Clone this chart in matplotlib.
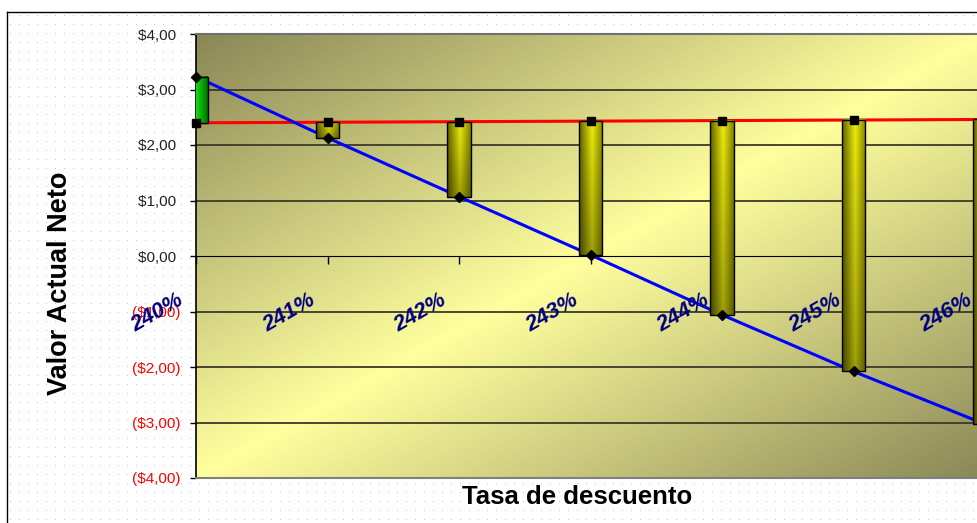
"""Valor actual neto vs tasa de descuento, Excel-style up/down bar chart."""

import matplotlib
import matplotlib.pyplot as plt
import matplotlib.transforms as mtransforms
import numpy as np
from matplotlib.lines import Line2D

matplotlib.use("Agg")

plt.rcParams["font.family"] = ["Liberation Sans", "DejaVu Sans"]

# ── Data ──────────────────────────────────────────────────────────────────────

rates = ["240%", "241%", "242%", "243%", "244%", "245%", "246%"]
van_ref = [2.40, 2.41, 2.42, 2.43, 2.44, 2.45, 2.46]       # red series
van_tasa = [3.23, 2.13, 1.07, 0.02, -1.06, -2.08, -3.03]   # blue series
y_ticks = [-4, -3, -2, -1, 0, 1, 2, 3, 4]

W, H = 977, 523


def money(v):
    s = f"${abs(v):.2f}".replace(".", ",")
    return f"({s})" if v < 0 else s + " "


def hgrad(stops, n=64, m=2):
    """Horizontal colour ramp through (pos, rgb) stops."""
    t = np.linspace(0, 1, n)
    pos = [p for p, _ in stops]
    cols = np.array([c for _, c in stops])
    row = np.stack([np.interp(t, pos, cols[:, k]) for k in range(3)], axis=-1)
    return np.repeat(row[None, :, :], m, axis=0)


fig = plt.figure(figsize=(W / 100, H / 100), dpi=100, facecolor="white")

# dotted chart-area background
dots = np.zeros((H, W, 4))
dots[15::9, 10::9] = [0.78, 0.78, 0.78, 1.0]
dots[:12, :] = 0
fig.figimage(dots, zorder=-1, origin="upper")

# chart border (top and left visible)
fig.add_artist(Line2D([7 / W, 1], [1 - 11.5 / H] * 2, transform=fig.transFigure, color="black", lw=1))
fig.add_artist(Line2D([7 / W] * 2, [0, 1 - 11.5 / H], transform=fig.transFigure, color="black", lw=1))

ax = fig.add_axes([196 / W, 45 / H, 789 / W, 444 / H])
x = np.arange(len(rates))

# plot-area diagonal gradient: dark corners, light band through the middle
u = np.linspace(0, 1, 400)
v = np.linspace(0, 1, 300)
U, V = np.meshgrid(u, v)
d = np.abs(U + V - 1)
light = np.array([1.0, 1.0, 0.62])
dark = np.array([0.54, 0.53, 0.34])
bg = light + (dark - light) * d[..., None]
ax.imshow(bg, extent=[0, 6, -4, 4], aspect="auto", origin="upper", zorder=0,
          interpolation="bilinear")

for y in [-3, -2, -1, 1, 2, 3]:
    ax.axhline(y, color="#3a3a2a", lw=1.3, zorder=1)

ax.plot(x, van_ref, color="#ff0000", lw=2.2, zorder=2)
ax.plot(x, van_tasa, color="#0000ff", lw=2.2, zorder=2)

# up/down bars
width = 0.18
olive = hgrad([(0, (0.38, 0.38, 0.0)), (0.55, (0.93, 0.93, 0.05)), (1, (0.52, 0.52, 0.0))])
green = hgrad([(0, (0.0, 0.6, 0.0)), (0.4, (0.1, 0.95, 0.1)), (1, (0.0, 0.45, 0.0))])
for xi, a, b in zip(x, van_ref, van_tasa, strict=True):
    lo, hi = min(a, b), max(a, b)
    ax.bar(xi, hi - lo, width, bottom=lo, facecolor="none", edgecolor="black", lw=1, zorder=3.5)
    img = green if b > a else olive
    shade = np.linspace(1.0, 0.68, 40)[:, None, None]
    img = np.repeat(img[:1], 40, axis=0) * (shade if b <= a else 1.0)
    ax.imshow(img, extent=[xi - width / 2, xi + width / 2, lo, hi], aspect="auto",
              origin="upper", zorder=3, interpolation="bilinear")

ax.plot(x, van_ref, ls="none", marker="s", ms=6, color="black", zorder=5, clip_on=False)
ax.plot(x, van_tasa, ls="none", marker="D", ms=5.5, color="black", zorder=5, clip_on=False)

# category labels sit below the zero axis, rotated
off = mtransforms.offset_copy(ax.transData, fig=fig, x=-14, y=-43, units="dots")
for xi, lab in zip(x, rates, strict=True):
    ax.text(xi, 0, lab, transform=off, rotation=30, rotation_mode="anchor", ha="right",
            va="center", color="#000080", fontsize=16, fontweight="bold", fontstyle="italic",
            zorder=6)

ax.set_xlim(0, 6)
ax.set_ylim(-4, 4)
ax.set_xticks(x)
ax.tick_params(axis="x", direction="out", length=6, width=1, color="black", labelbottom=False)
ax.set_yticks(y_ticks)
ax.set_yticklabels([money(t) for t in y_ticks])
ax.tick_params(axis="y", direction="out", length=4.5, width=1, pad=7, labelsize=11)
for lab, t in zip(ax.get_yticklabels(), y_ticks, strict=True):
    lab.set_color("#ff0000" if t < 0 else "#222222")

ax.spines["bottom"].set_position(("data", 0))
ax.spines["bottom"].set_color("black")
ax.spines["left"].set_color("black")
ax.spines["left"].set_linewidth(1.2)
ax.spines["top"].set_color("#707070")
ax.spines["top"].set_linewidth(1.5)
ax.spines["right"].set_visible(False)
ax.axhline(-4, color="#808080", lw=1.5, clip_on=False, zorder=4)

fig.text(577 / W, 1 - 497 / H, "Tasa de descuento", ha="center", va="center", fontsize=18.5,
         fontweight="bold")
fig.text(60 / W, 1 - 283 / H, "Valor Actual Neto", ha="center", va="center", rotation=90,
         fontsize=19.5, fontweight="bold")

fig.savefig("out.png", dpi=100)
plt.close(fig)
